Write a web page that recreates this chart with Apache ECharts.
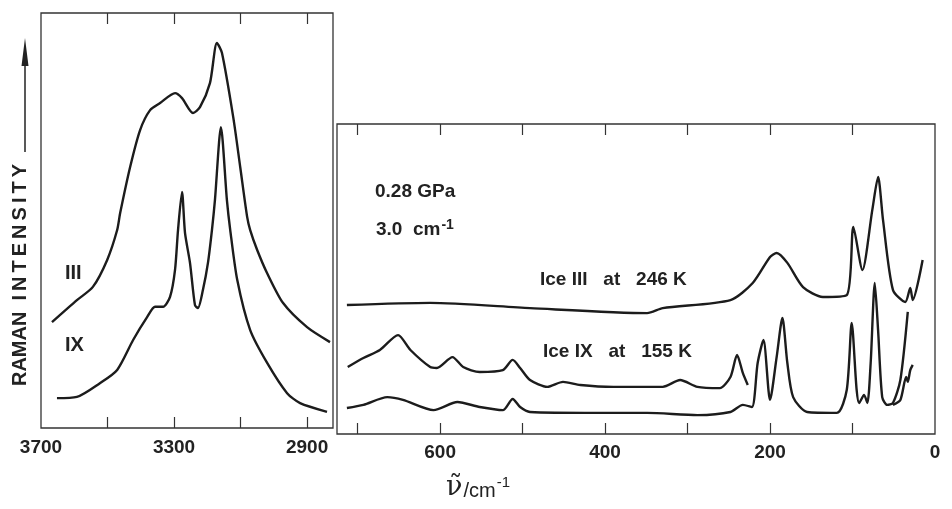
<!DOCTYPE html>
<html>
<head>
<meta charset="utf-8" />
<title>Raman spectra ice III / ice IX</title>
<script src="https://cdn.jsdelivr.net/npm/echarts@6/dist/echarts.min.js"></script>
<style>
  html, body { margin: 0; padding: 0; background: #fff; }
  #main { width: 952px; height: 509px; }
</style>
</head>
<body>
<div id="main"></div>
<script type="text/javascript">
// O-H stretching region (cm-1, intensity in arbitrary units 0..100)
var iiiLeft = [[3667,25.5],[3592,30.8],[3544,34.0],[3501,40.5],[3471,47.7],[3462,51.8],[3432,62.9],
    [3402,71.8],[3372,76.6],[3342,78.3],[3297,80.7],[3276,79.5],[3243,75.9],[3222,77.3],[3192,83.1],
    [3171,92.8],[3156,90.4],[3122,74.9],[3101,62.9],[3080,50.8],[3071,47.7],[3050,42.9],[3020,37.3],
    [2972,30.1],[2900,24.3],[2831,20.7]];
var ixLeft = [[3652,7.2],[3592,7.5],[3523,10.8],[3471,14.0],[3423,21.2],[3381,26.7],[3357,29.2],
    [3333,29.2],[3312,31.6],[3297,38.1],[3288,47.7],[3276,56.9],[3267,47.0],[3252,39.8],[3237,29.6],
    [3228,28.9],[3213,33.3],[3198,39.8],[3186,47.7],[3177,54.9],[3159,72.5],[3141,54.9],[3131,47.7],
    [3110,35.7],[3071,23.6],[3020,15.7],[2960,8.4],[2921,6.0],[2840,3.9]];

// lattice region
var iiiRight = [[713,41.6],[612,42.3],[491,40.6],[349,39.0],[330,40.6],[248,43.2],[221,48.7],
    [200,57.1],[192,58.4],[179,55.2],[160,47.4],[136,44.2],[107,44.8],[99,66.8],[88,52.9],[76,72.3],
    [69,82.9],[63,69.0],[51,46.5],[36,42.6],[30,47.1],[27,43.2],[15,56.1]];
var ixRight = [[712,21.6],[693,24.5],[673,27.1],[651,31.9],[636,27.1],[612,21.6],[604,21.3],
    [585,24.8],[572,21.6],[552,20.0],[524,20.6],[512,23.9],[503,21.3],[491,17.4],[470,15.2],
    [451,16.8],[430,15.8],[390,15.2],[349,15.2],[330,15.2],[309,17.4],[288,15.2],[261,14.8],
    [248,18.4],[240,25.5],[233,19.7],[227,15.8]];
var ixLow = [[713,8.4],[693,9.4],[664,11.9],[645,11.0],[608,7.7],[579,10.3],[552,8.7],[524,7.7],
    [512,11.3],[503,8.7],[491,7.1],[410,6.8],[349,6.8],[288,6.1],[248,7.1],[233,9.4],[222,8.7],
    [215,22.9],[208,30.3],[200,11.0],[192,24.8],[185,37.4],[179,22.9],[172,11.9],[155,7.1],
    [119,6.8],[107,14.2],[101,35.8],[95,14.2],[92,10.0],[86,12.6],[82,10.0],[78,22.9],[73,48.7],
    [69,33.5],[64,11.9],[58,9.4],[51,10.0],[42,17.4],[33,39.4]];
var ixBranch = [[51,9.4],[42,11.0],[35,18.4],[33,16.8],[30,20.6],[27,22.3]];

var leftTicks = [3500, 3300, 3100, 2900];
var leftLabels = [3700, 3300, 2900];
var rightTicks = [700, 600, 500, 400, 300, 200, 100];
var rightLabels = [600, 400, 200, 0];

var ff = '"Liberation Sans", Arial, sans-serif';
var ink = '#1c1c1c';

function xAx(grid, pos, min, max, ticks, labels, margin) {
    return {
        type: 'value', gridIndex: grid, position: pos, inverse: true,
        min: min, max: max,
        axisLine: { show: false },
        splitLine: { show: false },
        axisTick: { show: true, inside: true, length: 11, customValues: ticks,
            lineStyle: { color: '#333', width: 1.2 } },
        axisLabel: { show: !!labels, customValues: labels || [], margin: margin,
            formatter: function (v) { return String(v); },
            color: '#222', fontFamily: ff, fontWeight: 'bold', fontSize: 19 }
    };
}
function yAx(grid) {
    return { type: 'value', gridIndex: grid, min: 0, max: 100,
        axisLine: { show: false }, axisTick: { show: false },
        axisLabel: { show: false }, splitLine: { show: false } };
}
function line(xi, data) {
    return { type: 'line', xAxisIndex: xi, yAxisIndex: xi === 0 ? 0 : 1, data: data,
        showSymbol: false, symbol: 'none', smooth: 0.25,
        lineStyle: { color: ink, width: 2.4 }, silent: true, animation: false };
}

var chart = echarts.init(document.getElementById('main'));
var option = {
    backgroundColor: '#fff',
    animation: false,
    grid: [
        { left: 41, top: 13, width: 292, height: 415, show: true,
          borderColor: '#333', borderWidth: 1.3, backgroundColor: 'transparent' },
        { left: 337, top: 124, width: 598, height: 310, show: true,
          borderColor: '#333', borderWidth: 1.3, backgroundColor: 'transparent' }
    ],
    xAxis: [
        xAx(0, 'bottom', 2822, 3700, leftTicks, leftLabels, 10),
        xAx(1, 'bottom', 0, 725, rightTicks, rightLabels, 9),
        xAx(0, 'top', 2822, 3700, leftTicks, null, 0),
        xAx(1, 'top', 0, 725, rightTicks, null, 0)
    ],
    yAxis: [yAx(0), yAx(1)],
    series: [
        line(0, iiiLeft), line(0, ixLeft),
        line(1, iiiRight), line(1, ixRight), line(1, ixLow), line(1, ixBranch)
    ],
    graphic: [
        // intensity axis title with arrow
        { type: 'text', x: 20, y: 275, rotation: Math.PI / 2, style: {
            text: 'RAMAN  I\u2009N\u2009T\u2009E\u2009N\u2009S\u2009I\u2009T\u2009Y',
            fontFamily: ff, fontWeight: 'bold', fontSize: 20, fill: '#222',
            align: 'center', verticalAlign: 'middle' } },
        { type: 'line', shape: { x1: 25, y1: 152, x2: 25, y2: 62 },
          style: { stroke: '#222', lineWidth: 1.5 } },
        { type: 'polygon', shape: { points: [[25, 38], [21.5, 66], [28.5, 66]] },
          style: { fill: '#222' } },
        { type: 'text', x: 65, y: 273, style: { text: 'III', fontFamily: ff, fontWeight: 'bold',
            fontSize: 20, fill: '#222', verticalAlign: 'middle' } },
        { type: 'text', x: 65, y: 345, style: { text: 'IX', fontFamily: ff, fontWeight: 'bold',
            fontSize: 20, fill: '#222', verticalAlign: 'middle' } },
        { type: 'text', x: 375, y: 192, style: { text: '0.28 GPa', fontFamily: ff, fontWeight: 'bold',
            fontSize: 19, fill: '#222', verticalAlign: 'middle' } },
        { type: 'text', x: 376, y: 218, style: { text: '3.0  cm{s|-1}', fontFamily: ff,
            fontWeight: 'bold', fontSize: 19, fill: '#222', verticalAlign: 'top',
            rich: { s: { fontSize: 14, fontWeight: 'bold', fontFamily: ff, fill: '#222',
                verticalAlign: 'top', lineHeight: 24, padding: [0, 0, 10, 1] } } } },
        { type: 'text', x: 540, y: 280, style: { text: 'Ice III   at   246 K', fontFamily: ff,
            fontWeight: 'bold', fontSize: 19, fill: '#222', verticalAlign: 'middle' } },
        { type: 'text', x: 543, y: 352, style: { text: 'Ice IX   at   155 K', fontFamily: ff,
            fontWeight: 'bold', fontSize: 19, fill: '#222', verticalAlign: 'middle' } },
        // wavenumber axis title
        { type: 'text', x: 446, y: 474, style: {
            text: '{n|\u03bd\u0303}{u|/cm}{s|-1}', fill: '#222',
            rich: {
                n: { fontFamily: '"DejaVu Serif", serif', fontSize: 27, fill: '#222' },
                u: { fontFamily: ff, fontSize: 20, fill: '#222', padding: [7, 0, 0, 1] },
                s: { fontFamily: ff, fontSize: 15, fill: '#222', padding: [0, 0, 10, 1] }
            } } }
    ]
};
chart.setOption(option);
</script>
</body>
</html>
